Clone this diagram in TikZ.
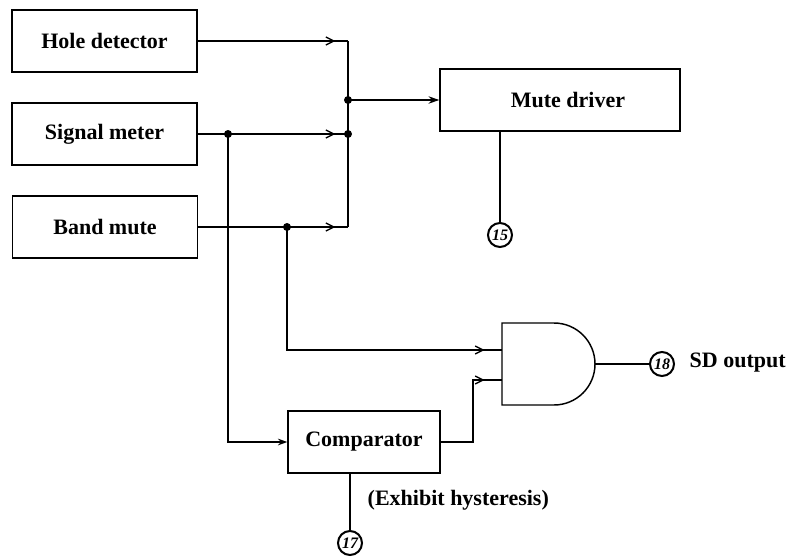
\documentclass[tikz,border=0pt]{standalone}
\usepackage{fontspec}
\setmainfont{Liberation Serif}
\usetikzlibrary{arrows.meta,decorations.markings}
\begin{document}
\begin{tikzpicture}[x=0.75pt,y=-0.75pt,line width=1.1pt,
  blk/.style={draw,minimum width=#1*0.75pt,minimum height=46.5pt,inner sep=0pt,font=\fontsize{16.5}{19}\selectfont\bfseries},
  pin/.style={draw,circle,line width=1.5pt,minimum size=18pt,inner sep=0pt,font=\fontsize{12}{12}\selectfont\bfseries\itshape},
  jdot/.style={circle,fill,inner sep=0pt,minimum size=6pt},
  midarrow/.style={postaction={decorate},decoration={markings,mark=at position #1 with {\arrow{Straight Barb[length=6pt,width=6pt,line width=1pt]}}}},
  lbl/.style={font=\fontsize{16.5}{19}\selectfont\bfseries,inner sep=0pt}]
\useasboundingbox (0,0) rectangle (790,558);
% blocks
\node[blk=185] (hole) at (104.5,41) {Hole detector};
\node[blk=185] (sig) at (104.5,134) {Signal meter};
\node[blk=185] (band) at (105,227) {Band mute};
\node[blk=240] (mute) at (560,100) {\hspace{12pt}Mute driver};
\node[blk=152] (comp) at (364,442) {Comparator};
% bus coordinates
\coordinate (bt) at (348,41);
\coordinate (bj) at (348,100);
\coordinate (bs) at (348,134);
\coordinate (bb) at (348,227);
\coordinate (js) at (228,134);
\coordinate (jb) at (287,227);
% AND gate
\coordinate (ga) at (502,323);
\draw (ga) -- (554,323) arc[start angle=-90,end angle=90,radius=41] -- (502,405) -- cycle;
\coordinate (and1) at (502,350);
\coordinate (and2) at (502,380);
\coordinate (andout) at (595,364);
% pins
\node[pin] (p15) at (500,235) {15};
\node[pin] (p17) at (350,543) {17};
\node[pin] (p18) at (662,364) {18};
% connectors
\draw[midarrow=-9.5pt] (hole.east) -- (bt);
\draw[midarrow=-9.5pt] (sig.east) -- (bs);
\draw[midarrow=-9.5pt] (band.east) -- (bb);
\draw (bt) -- (bb);
\draw[-{Stealth[length=8pt,width=5.5pt]}] (bj) -- (mute.west);
\draw (mute.south -| p15) -- (p15);
\draw[-{Stealth[length=7pt,width=5pt]}] (js) |- (comp.west);
\draw[midarrow=-13pt] (jb) |- (and1);
\draw[midarrow=-13pt] (comp.east) -| (473,380) -- (and2);
\draw (comp.south -| p17) -- (p17);
\draw (andout) -- (p18);
\node[lbl,anchor=west] (sd) at (689,363) {SD output};
\node[lbl,anchor=west] (hyst) at (367,500) {(Exhibit hysteresis)};
% junctions
\node[jdot] at (bj) {};
\node[jdot] at (bs) {};
\node[jdot] at (js) {};
\node[jdot] at (jb) {};
\end{tikzpicture}
\end{document}
